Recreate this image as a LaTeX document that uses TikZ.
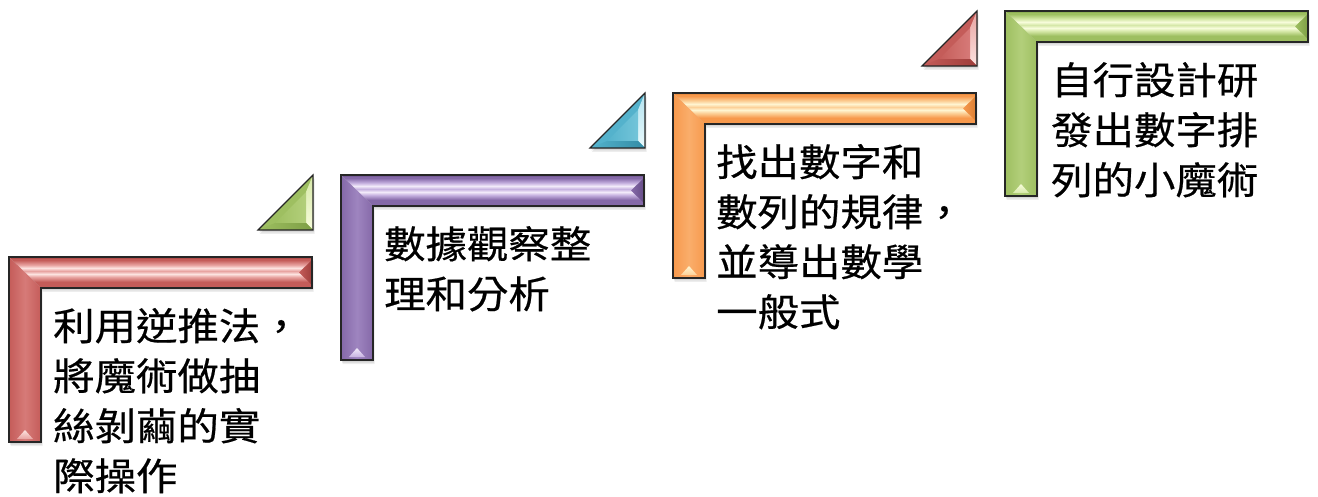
\documentclass[tikz,border=0pt]{standalone}
\usepackage{fontspec}
\usepackage{graphicx}
\newfontfamily\cjk[FakeBold=0.5]{Noto Sans CJK TC}
% red
\definecolor{rD}{rgb}{0.62,0.24,0.23}
\definecolor{rB}{rgb}{0.77,0.36,0.35}
\definecolor{rM}{rgb}{0.84,0.48,0.47}
\definecolor{rLt}{rgb}{0.91,0.64,0.63}
\definecolor{rW}{rgb}{0.99,0.89,0.88}
% purple
\definecolor{pD}{rgb}{0.40,0.30,0.53}
\definecolor{pB}{rgb}{0.52,0.41,0.66}
\definecolor{pM}{rgb}{0.62,0.52,0.75}
\definecolor{pLt}{rgb}{0.78,0.70,0.88}
\definecolor{pW}{rgb}{0.95,0.92,0.98}
% orange
\definecolor{oD}{rgb}{0.86,0.50,0.20}
\definecolor{oB}{rgb}{0.97,0.60,0.30}
\definecolor{oM}{rgb}{0.98,0.68,0.42}
\definecolor{oLt}{rgb}{0.99,0.82,0.60}
\definecolor{oW}{rgb}{1.00,0.96,0.82}
% green
\definecolor{gD}{rgb}{0.49,0.62,0.27}
\definecolor{gB}{rgb}{0.62,0.75,0.38}
\definecolor{gM}{rgb}{0.70,0.81,0.48}
\definecolor{gLt}{rgb}{0.84,0.91,0.66}
\definecolor{gW}{rgb}{0.97,0.99,0.86}
% blue
\definecolor{bD}{rgb}{0.20,0.55,0.65}
\definecolor{bB}{rgb}{0.33,0.70,0.80}
\definecolor{bM}{rgb}{0.45,0.77,0.85}
\definecolor{bLt}{rgb}{0.70,0.89,0.94}
\definecolor{bW}{rgb}{0.92,0.98,0.99}
\newcommand\declhbar[1]{%
\pgfdeclareverticalshading{hbar#1}{100bp}{color(0bp)=(#1D); color(25bp)=(#1D); color(28bp)=(#1B); color(35bp)=(#1B); color(42.7bp)=(#1Lt); color(47.6bp)=(#1W); color(52.4bp)=(#1Lt); color(57.3bp)=(#1W); color(62.1bp)=(#1Lt); color(70bp)=(#1B); color(72bp)=(#1B); color(75bp)=(#1D); color(100bp)=(#1D)}}
\declhbar{r}\declhbar{p}\declhbar{o}\declhbar{g}
\newcommand\stepshape[4]{% L, T, prefix, name
\begin{scope}[shift={(#1,#2)}]
  \foreach \s/\o in {1/0.10,2.5/0.09,4/0.07}{
    \fill[black,opacity=\o,shift={(0.4*\s,\s)}] (0,0) -- (303,0) -- (303,31) -- (32,31) -- (32,185) -- (0,185) -- cycle;}
  \begin{scope}
    \clip (0,0) -- (303,0) -- (303,31) -- (32,31) -- cycle;
    \shade[shading=hbar#3] (0,0) rectangle (303,31);
    \shade[left color=#3B, right color=#3D] (303,3) -- (290,15.5) -- (303,28) -- cycle;
  \end{scope}
  \begin{scope}
    \clip (0,0) -- (32,31) -- (32,185) -- (0,185) -- cycle;
    \shade[left color=#3B, right color=#3B, middle color=#3M] (0,0) rectangle (32,185);
    \shade[bottom color=#3Lt, top color=#3W] (8,182) -- (16,173) -- (24,182) -- cycle;
  \end{scope}
  \draw[outline] (0,0) -- (303,0) -- (303,31) -- (32,31) -- (32,185) -- (0,185) -- cycle;
  \coordinate (#4) at (0,0);
\end{scope}}
\newcommand\tristep[4]{% x0, y0, prefix, name
\begin{scope}[shift={(#1,#2)}]
  \foreach \s/\o in {1/0.10,2.5/0.09,4/0.07}{
    \fill[black,opacity=\o,shift={(0.4*\s,\s)}] (0,55) -- (55,55) -- (55,0) -- cycle;}
  \fill[#3B] (0,55) -- (55,55) -- (55,0) -- cycle;
  \shade[top color=#3Lt, bottom color=#3W] (55,0) -- (55,55) -- (48,48) -- (48,17) -- cycle;
  \shade[left color=#3B, right color=#3D] (0,55) -- (55,55) -- (48,48) -- (17,48) -- cycle;
  \shade[left color=#3B, right color=#3M] (17,48) -- (48,48) -- (48,17) -- cycle;
  \draw[outline] (0,55) -- (55,55) -- (55,0) -- cycle;
  \coordinate (#4) at (0,0);
\end{scope}}
\begin{document}
\begin{tikzpicture}[x=1pt,y=-1pt,
  outline/.style={draw=black!85,line width=1.1pt,line join=miter},
  label/.style={anchor=north west,inner sep=0pt,font=\cjk\fontsize{38}{50}\selectfont}]
\fill[white] (0,0) rectangle (1318,497);
\useasboundingbox (0,0) rectangle (1318,497);
% triangles
\tristep{258}{175}{g}{tri1}
\tristep{590}{93}{b}{tri2}
\tristep{922}{11}{r}{tri3}
% steps
\stepshape{9}{257}{r}{s1}
\stepshape{341}{175}{p}{s2}
\stepshape{673}{93}{o}{s3}
\stepshape{1005}{11}{g}{s4}
% texts
\node[label] (t1) at (53,305) {\scalebox{1.09}[1]{\begin{tabular}{@{}l@{}}利用逆推法，\\將魔術做抽\\絲剝繭的實\\際操作\end{tabular}}};
\node[label] (t2) at (384,223) {\scalebox{1.09}[1]{\begin{tabular}{@{}l@{}}數據觀察整\\理和分析\end{tabular}}};
\node[label] (t3) at (716,141) {\scalebox{1.09}[1]{\begin{tabular}{@{}l@{}}找出數字和\\數列的規律，\\並導出數學\\一般式\end{tabular}}};
\node[label] (t4) at (1051,59) {\scalebox{1.09}[1]{\begin{tabular}{@{}l@{}}自行設計研\\發出數字排\\列的小魔術\end{tabular}}};
\end{tikzpicture}
\end{document}
